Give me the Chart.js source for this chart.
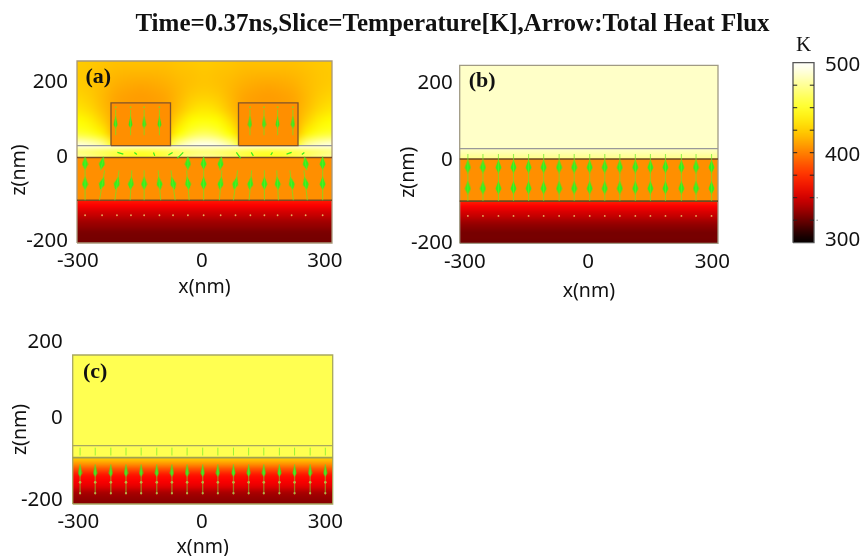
<!DOCTYPE html>
<html><head><meta charset="utf-8">
<style>html,body{margin:0;background:#fff;overflow:hidden;width:861px;height:556px}canvas{position:absolute;left:0;top:0}</style>
<script src="https://cdn.jsdelivr.net/npm/chart.js@4/dist/chart.umd.min.js"></script>
</head><body>
<canvas id="t" width="861" height="556"></canvas>
<canvas id="a" width="861" height="556"></canvas>
<canvas id="b" width="861" height="556"></canvas>
<canvas id="c" width="861" height="556"></canvas>
<canvas id="k" width="861" height="556"></canvas>
<script>
// ---- text
const figureTitle = 'Time=0.37ns,Slice=Temperature[K],Arrow:Total Heat Flux';
const xLabels = ['-300','0','300'];
const zLabels = ['200','0','-200'];
const barLabels = ['300','400','500'];

// ---- temperatures [K], rows run bottom to top
const substrateA = [327,328,329,334,338,345,351,359,368];
const substrateB = [326,328,328,332,337,345,351,359,370];
const substrateC = [331,335,340,353,359,366,385,408,425];
const layerT = 405;
const stripT = 405;
const airB = [487];
const airC = [459];
const capB = [472,486];
const capC = [459,459];
const capA = [
  [480,445,480,445,480],
  [470,450,470,450,470],
  [492,492,492,492,492]];
const airA = [
  [495,490,478,440,420,415,420,445,480,495,498,495,480,445,420,415,420,440,478,490,495],
  [452,448,436,415,410,410,410,420,440,456,462,456,440,420,410,410,410,415,436,448,452],
  [440,436,426,412,410,410,410,414,430,440,443,440,430,414,410,410,410,412,426,436,440],
  [432,428,420,412,410,410,410,412,421,430,433,430,421,412,410,410,410,412,420,428,432],
  [427,424,418,412,410,409,410,412,418,424,426,424,418,412,410,409,410,412,418,424,427],
  [424,422,419,415,413,412,413,415,418,421,422,421,418,415,413,412,413,415,419,422,424],
  [423,422,420,418,417,417,417,418,420,421,422,421,420,418,417,417,417,418,420,422,423],
  [424,423,422,421,421,421,421,421,422,423,424,423,422,421,421,421,421,421,422,423,424]];
const barT = [300,325,350,375,400,425,450,475,500];

// ---- flux arrow columns [nm]
const arrowXA = [-281,-241,-206,-173,-142,-106,-74,-39,-2,38,73,108,141,172,205,238,278];
const tiltA   = [0,-6,-5,-2,0,3,5,3,0,-3,-5,-3,0,2,4,4,0];
const upperXA = [-281,-241,-39,-2,38,238,278];
const upperTiltA = [0,-4,0,0,-2,3,0];
const stripXA = [-209,-174,-142,-106,107,140,172,208];
const skewXA = [-205,-165,-120,-75,-50,75,110,160,205,235];
const skewDxA = [14,6,3,-10,-14,10,5,-4,-12,-6];
const skewDzA = [-4,-5,-8,-6,-14,-14,-8,-6,-4,-5];
const arrowXB = [-281,-246,-210,-175,-140,-105,-69,-34,2,37,72,108,143,178,215,249,285];
const arrowXC = [-283,-248,-212,-177,-142,-106,-71,-36,0,35,71,106,141,177,212,248,283];
const rectA = [[-220,-80],[80,220]];

// ---- colour map: 300 black, 360 red, 440 yellow, 500 white
function hot(T){
  if(T<360) return [(T-300)/60*255,0,0];
  if(T<440) return [255,(T-360)/80*255,0];
  return [255,255,(Math.min(T,500)-440)/60*255];
}

// paints a temperature grid into the data rectangle given by the scales
function paintField(chart,f){
  const rows=f.t, h=rows.length, w=rows[0].length;
  const off=document.createElement('canvas'); off.width=w; off.height=h;
  const octx=off.getContext('2d'), img=octx.createImageData(w,h);
  for(let r=0;r<h;r++)for(let c=0;c<w;c++){
    const rgb=hot(rows[h-1-r][c]), i=(r*w+c)*4;
    img.data[i]=rgb[0];img.data[i+1]=rgb[1];img.data[i+2]=rgb[2];img.data[i+3]=255;
  }
  octx.putImageData(img,0,0);
  const X=chart.scales.x,Y=chart.scales.y, ctx=chart.ctx;
  const px0=X.getPixelForValue(f.x0),px1=X.getPixelForValue(f.x1);
  const py1=Y.getPixelForValue(f.z1),py0=Y.getPixelForValue(f.z0);
  ctx.save(); ctx.imageSmoothingEnabled=true; ctx.imageSmoothingQuality='high';
  const sx=w>1?.5:0, sw=w>1?w-1:1, sy=h>1?.5:0, sh=h>1?h-1:1;
  ctx.drawImage(off,sx,sy,sw,sh,px0,py1,px1-px0,py0-py1);
  ctx.restore();
}
const fieldPlugin={id:'field',
  beforeDatasetsDraw(chart,args,o){(o.list||[]).forEach(f=>paintField(chart,f));},
  afterDatasetsDraw(chart,args,o){
    if(!o.letter)return;
    const ctx=chart.ctx;ctx.save();
    ctx.font='bold 22px "Liberation Serif"';ctx.fillStyle='#111';ctx.textAlign='center';ctx.textBaseline='middle';
    ctx.fillText(o.letter.text,chart.scales.x.getPixelForValue(o.letter.x),chart.scales.y.getPixelForValue(o.letter.z));
    ctx.restore();
  },
  afterLayout(chart,args,o){ if(o.titleShift){chart.scales.y.top+=o.titleShift;chart.scales.y.bottom+=o.titleShift;} }
};
Chart.register(fieldPlugin);

// soft arrow-head glyphs used as point styles
function glyph(w,h,color,belly){
  const s=4, c=document.createElement('canvas'); c.width=w*s; c.height=h*s;
  const g=c.getContext('2d'); g.fillStyle=color; g.filter='blur(1px)';
  g.beginPath(); g.moveTo(w*s/2,1); g.lineTo(w*s-2,h*s*belly); g.lineTo(w*s/2,h*s-1); g.lineTo(2,h*s*belly); g.closePath(); g.fill();
  const out=document.createElement('canvas'); out.width=w; out.height=h;
  out.getContext('2d').drawImage(c,0,0,w,h);
  return {img:out,w,h};
}
const bigHead=glyph(7,14,'#33f01c',.42), slimHead=glyph(5,13,'#33e81c',.3);

const G='#35ee1e', GF='rgba(100,235,40,.65)';
const line=(pts,color,w)=>({type:'line',data:pts,borderColor:color,borderWidth:w,borderDash:[1000,1],pointRadius:0,tension:0,clip:false,spanGaps:false,fill:false});
const heads=(pts,g)=>({type:'scatter',data:pts,pointStyle:g.img,pointRadius:Math.max(g.w,g.h),pointBorderWidth:0,
  pointRotation:c=>c.raw.r,showLine:false,clip:false});
const dots=(pts,r,color)=>({type:'scatter',data:pts,pointStyle:'circle',pointRadius:r,pointBorderWidth:0,pointBackgroundColor:color,showLine:false,clip:false});
const shaft=(xs,top,bot,tilts)=>xs.flatMap((x,i)=>{const d=tilts?tilts[i]:0;return [{x:x-d,y:top},{x:x+d,y:bot},{x:NaN,y:NaN}];});
const headRow=(xs,z,tilts)=>xs.map((x,i)=>({x,y:z,r:180-(tilts?Math.atan2(tilts[i]*2,40)*57.3:0)}));
const frame=(x0,x1,z0,z1)=>[{x:x0,y:z0},{x:x1,y:z0},{x:x1,y:z1},{x:x0,y:z1},{x:x0,y:z0}];
const hline=(x0,x1,z)=>[{x:x0,y:z},{x:x1,y:z}];

function panel(id,p){
  const W=861,H=556;
  new Chart(document.getElementById(id),{
    data:{datasets:p.sets},
    options:{responsive:false,animation:false,events:[],
      layout:{padding:{left:p.left,top:p.top,right:W-p.right,bottom:H-p.bottom-p.xh}},
      plugins:{legend:{display:false},tooltip:{enabled:false},field:{list:p.fields,letter:p.letter,titleShift:p.shift||0}},
      scales:{
        x:{type:'linear',min:-300,max:300,grid:{display:false,drawTicks:false},border:{display:false},
          afterBuildTicks:s=>{s.ticks=p.xt.map(v=>({value:v}));},
          afterFit:s=>{s.height=p.xh;s.paddingLeft=0;s.paddingRight=0;},
          ticks:{autoSkip:false,maxRotation:0,padding:p.xpad,color:'#111',font:{family:'"Noto Sans"',size:20.5},callback:(v,i)=>xLabels[i]},
          title:{display:true,text:'x(nm)',color:'#111',padding:0,font:{family:'"Noto Sans"',size:19.5}}},
        y:{type:'linear',min:-200,max:p.zmax,grid:{display:false,drawTicks:false},border:{display:false},
          afterBuildTicks:s=>{s.ticks=p.zt.map(v=>({value:v}));},
          afterFit:s=>{s.width=p.plotLeft-p.left;s.paddingTop=0;s.paddingBottom=0;},
          ticks:{autoSkip:false,padding:p.ypad,color:'#111',font:{family:'"Noto Sans"',size:20.5},callback:(v,i)=>zLabels[i]},
          title:{display:true,text:'z(nm)',color:'#111',padding:0,font:{family:'"Noto Sans"',size:19.5}}}
      }
    }
  });
}

// figure title
new Chart(document.getElementById('t'),{type:'scatter',data:{datasets:[]},
  options:{responsive:false,animation:false,events:[],layout:{padding:{left:44,top:10}},
    scales:{x:{display:false},y:{display:false}},
    plugins:{legend:{display:false},tooltip:{enabled:false},
      title:{display:true,text:figureTitle,color:'#111',padding:0,font:{family:'"Liberation Serif"',size:25,weight:'bold'}}}}});

// (a)
const zTopA=226;
panel('a',{left:8,plotLeft:77,right:332,top:61,bottom:243,xh:56,zmax:zTopA,xpad:6,ypad:9,shift:18,
  xt:[-298,-6,283],zt:[176,0,-195],
  letter:{text:'(a)',x:-250,z:188},
  fields:[
    {x0:-300,x1:300,z0:28,z1:zTopA,t:airA},
    {x0:-300,x1:300,z0:0,z1:28,t:capA},
    {x0:-300,x1:300,z0:-100,z1:0,t:[[layerT]]},
    {x0:-300,x1:300,z0:-200,z1:-100,t:substrateA.map(v=>[v])},
    ...rectA.map(r=>({x0:r[0],x1:r[1],z0:28,z1:128,t:[[stripT]]}))],
  sets:[
    line(shaft(arrowXA,-30,-100,tiltA),GF,1.1),
    line(shaft(upperXA,0,-30,upperTiltA),GF,1.1),
    line(shaft(stripXA,112,52),GF,1.1),
    line(skewXA.flatMap((x,i)=>[{x,y:12},{x:x+skewDxA[i],y:12+skewDzA[i]},{x:NaN,y:NaN}]),G,1.2),
    heads(headRow(arrowXA,-60,tiltA),bigHead),
    heads(headRow(upperXA,-13,upperTiltA),bigHead),
    heads(headRow(stripXA,83),slimHead),
    dots(stripXA.map(x=>({x,y:118})),1,GF),
    dots(arrowXA.map(x=>({x,y:-135})),.9,'#e8b060'),
    line(frame(-220,-80,28,128),'#80522a',1.3),
    line(frame(80,220,28,128),'#80522a',1.3),
    line(hline(-300,300,28),'#999999',1.3),
    line(hline(-300,300,0),'#7d4b20',1.6),
    line(hline(-300,300,-100),'#7d4b20',1.6),
    line(frame(-300,300,-200,zTopA),'#a8987a',1.3)]
});

// (b)
const zTopB=222;
panel('b',{left:396.6,plotLeft:459.7,right:718,top:65.3,bottom:243.3,xh:60,zmax:zTopB,xpad:7,ypad:7,shift:18,
  xt:[-288,-2,287],zt:[180,-2,-200],
  letter:{text:'(b)',x:-248,z:183},
  fields:[
    {x0:-300,x1:300,z0:24.5,z1:zTopB,t:[airB]},
    {x0:-300,x1:300,z0:0,z1:24.5,t:capB.map(v=>[v])},
    {x0:-300,x1:300,z0:-100,z1:0,t:[[layerT]]},
    {x0:-300,x1:300,z0:-200,z1:-100,t:substrateB.map(v=>[v])}],
  sets:[
    line(shaft(arrowXB,12,-100),GF,1.1),
    heads(headRow(arrowXB,-18),bigHead),
    heads(headRow(arrowXB,-68),bigHead),
    dots(arrowXB.map(x=>({x,y:-135})),.9,'#e8b060'),
    line(hline(-300,300,24.5),'#999999',1.3),
    line(hline(-300,300,0),'#6e4a20',1.6),
    line(hline(-300,300,-100),'#6e4a20',1.6),
    line(frame(-300,300,-200,zTopB),'#a09a84',1.3)]
});

// (c)
const zTopC=144;
panel('c',{left:9,plotLeft:72.7,right:332.7,top:355,bottom:504,xh:55.4,zmax:zTopC,xpad:6,ypad:10,
  xt:[-287,-2,283],zt:[174,-1,-191],
  letter:{text:'(c)',x:-248,z:105},
  fields:[
    {x0:-300,x1:300,z0:-65,z1:zTopC,t:[airC]},
    {x0:-300,x1:300,z0:-93,z1:-65,t:capC.map(v=>[v])},
    {x0:-300,x1:300,z0:-200,z1:-93,t:substrateC.map(v=>[v])}],
  sets:[
    line(shaft(arrowXC,-70,-88),GF,1),
    line(shaft(arrowXC,-108,-178),'rgba(120,210,50,.55)',1.3),
    heads(headRow(arrowXC,-123),slimHead),
    dots(arrowXC.map(x=>({x,y:-150})),1.3,'#d8b050'),
    dots(arrowXC.map(x=>({x,y:-175})),1.1,'#e0a060'),
    line(hline(-300,300,-65),'#a8a860',1.3),
    line(hline(-300,300,-93),'#a0a050',1.8),
    line(frame(-300,300,-200,zTopC),'#a8a860',1.3)]
});

// colour bar
const barTicks=[325,350,375,400,425,450,475];
new Chart(document.getElementById('k'),{
  data:{datasets:[
    line(barTicks.flatMap(v=>[{x:0,y:v},{x:.2,y:v},{x:NaN,y:NaN},{x:.8,y:v},{x:1,y:v},{x:NaN,y:NaN}]),'#222',1),
    dots(barTicks.map(v=>({x:1.15,y:v})),.8,'#999'),
    line(frame(0,1,300,500),'#555',1.3)]},
  options:{responsive:false,animation:false,events:[],
    layout:{padding:{left:793,top:33,right:0,bottom:556-242.7}},
    plugins:{legend:{display:false},tooltip:{enabled:false},
      field:{list:[{x0:0,x1:1,z0:300,z1:500,t:barT.map(v=>[v])}]}},
    scales:{
      x:{type:'linear',position:'top',min:0,max:1,grid:{display:false,drawTicks:false},border:{display:false},
        ticks:{display:false},afterFit:s=>{s.height=29.7;s.paddingLeft=0;s.paddingRight=0;},
        title:{display:true,text:'K',color:'#111',padding:0,font:{family:'"Liberation Serif"',size:21}}},
      y:{type:'linear',position:'right',min:300,max:500,grid:{display:false,drawTicks:false},border:{display:false},
        afterBuildTicks:s=>{s.ticks=[303,397,497].map(v=>({value:v}));},
        afterFit:s=>{s.width=47;s.paddingTop=0;s.paddingBottom=0;},
        ticks:{autoSkip:false,padding:11,color:'#111',font:{family:'"Noto Sans"',size:20.5},callback:(v,i)=>barLabels[i]}}
    }
  }
});
</script>
</body></html>
